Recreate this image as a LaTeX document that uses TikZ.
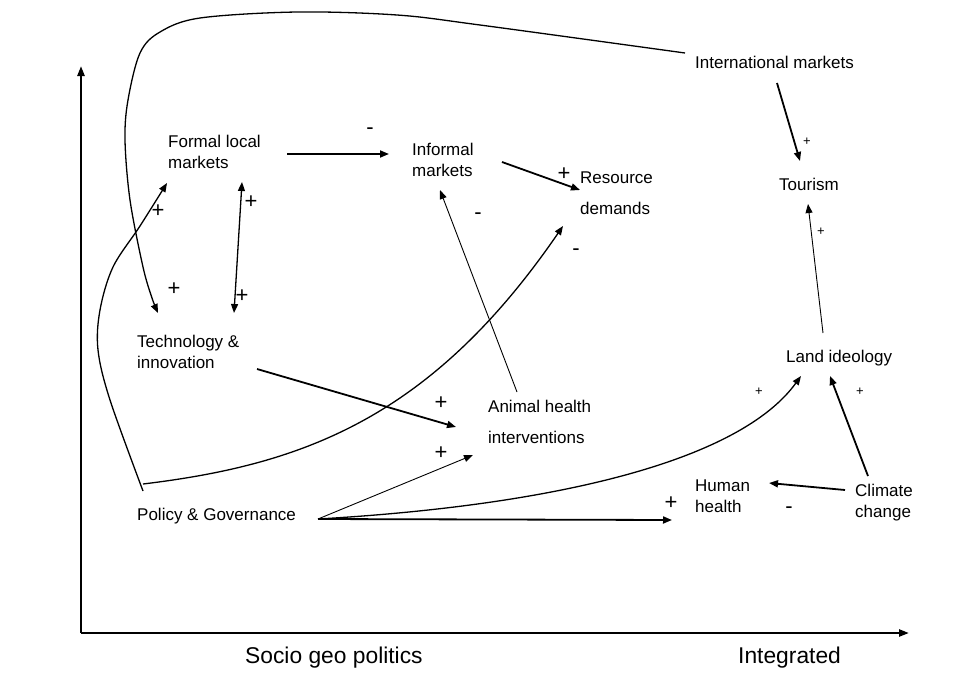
\documentclass[tikz,border=0pt]{standalone}
\usepackage{fontspec}
\setmainfont{Liberation Sans}
\usetikzlibrary{arrows.meta}
\begin{document}
\begin{tikzpicture}[x=1pt,y=-1pt,
  % multi-line labels are placed by the baseline of their last line
  lbl/.style={font=\fontsize{17}{21}\selectfont, inner sep=0pt, anchor=base west, align=left},
  axlbl/.style={font=\fontsize{22.8}{24}\selectfont, inner sep=0pt, anchor=base west},
  bigsign/.style={font=\fontsize{22}{22}\selectfont, inner sep=0pt},
  smallsign/.style={font=\fontsize{13}{13}\selectfont, inner sep=0pt},
  tip/.style={-{Triangle[length=9pt,width=7pt]}},
  twotips/.style={{Triangle[length=9pt,width=7pt]}-{Triangle[length=9pt,width=7pt]}},
  heavy/.style={line width=1.8pt},
  medium/.style={line width=1.3pt},
  light/.style={line width=0.9pt},
  axis/.style={line width=2.3pt, -{Triangle[length=10pt,width=7pt]}}
]
\useasboundingbox (0,0) rectangle (967,678);

% axes
\coordinate (origin) at (81,633);
\coordinate (ytop) at (81,66);
\coordinate (xend) at (909,633);
\draw[axis] (origin) -- (ytop);
\draw[axis] (origin) -- (xend);
\node[axlbl] (socio) at (245,663) {Socio geo politics};
\node[axlbl] (integ) at (738,663) {Integrated};

% factors
\node[lbl] (formal)   at (168,168) {Formal local\\markets};
\node[lbl] (informal) at (412,176) {Informal\\markets};
\node[lbl] (resource) at (580,214) {Resource\\[10pt]demands};
\node[lbl] (intl)     at (695,68)  {International markets};
\node[lbl] (tourism)  at (779,190) {Tourism};
\node[lbl] (tech)     at (137,368) {Technology \&\\innovation};
\node[lbl] (land)     at (786,362) {Land ideology};
\node[lbl] (animal)   at (488,443) {Animal health\\[10pt]interventions};
\node[lbl] (policy)   at (137,520) {Policy \& Governance};
\node[lbl] (human)    at (695,512) {Human\\health};
\node[lbl] (climate)  at (855,517) {Climate\\change};

% connector end points
\coordinate (formal-e)   at (287,154);
\coordinate (informal-w) at (389,154);
\coordinate (informal-e) at (502,162);
\coordinate (resource-w) at (580,190);
\coordinate (intl-s)     at (777,83);
\coordinate (tourism-n)  at (800,161);
\coordinate (tourism-s)  at (808,204);
\coordinate (land-n)     at (823,333);
\coordinate (animal-n)   at (517,392);
\coordinate (informal-s) at (440,190);
\coordinate (tech-e)     at (257,369);
\coordinate (animal-w)   at (456,427);
\coordinate (policy-e)   at (318,519);
\coordinate (animal-sw)  at (473,455);
\coordinate (human-w)    at (672,520);
\coordinate (land-sw)    at (801,376);
\coordinate (climate-w)  at (845,490);
\coordinate (human-e)    at (769,483);
\coordinate (climate-n)  at (868,476);
\coordinate (land-s)     at (830,376);
\coordinate (formal-s)   at (242,182);
\coordinate (tech-n)     at (234,313);
\coordinate (policy-nw)  at (143,491);
\coordinate (policy-n)   at (143,484);
\coordinate (formal-sw)  at (167,183);
\coordinate (resource-sw) at (563,226);
\coordinate (intl-w)     at (685,53);
\coordinate (tech-nw)    at (158,313);

% straight links
\draw[heavy,tip] (formal-e) -- (informal-w);
\draw[heavy,tip] (informal-e) -- (resource-w);
\draw[heavy,tip] (intl-s) -- (tourism-n);
\draw[light,tip] (land-n) -- (tourism-s);
\draw[light,tip] (animal-n) -- (informal-s);
\draw[heavy,tip] (tech-e) -- (animal-w);
\draw[light,tip] (policy-e) -- (animal-sw);
\draw[heavy,tip] (policy-e) -- (human-w);
\draw[heavy,tip] (climate-w) -- (human-e);
\draw[heavy,tip] (climate-n) -- (land-s);
\draw[medium,twotips] (formal-s) -- (tech-n);

% curved links
\draw[medium,tip] (policy-e) .. controls (560,505) and (740,460) .. (land-sw);
\draw[medium,tip] plot[smooth,tension=0.55] coordinates {(policy-nw) (110,400) (98,350) (100,310) (113,267) (140,226) (formal-sw)};
\draw[medium,tip] (policy-n) .. controls (300,465) and (430,420) .. (resource-sw);
\draw[medium,tip] plot[smooth,tension=0.55] coordinates {(intl-w) (480,25) (397,15) (297,12) (200,18) (160,32) (140,53) (128,100) (125,140) (130,200) (143,267) (152,298) (tech-nw)};

% polarity signs
\node[bigsign] (p1)  at (370,131) {-};
\node[bigsign] (p2)  at (564,174) {+};
\node[bigsign] (p3)  at (478,216) {-};
\node[bigsign] (p4)  at (576,252) {-};
\node[smallsign] (p5) at (807,142) {+};
\node[smallsign] (p6) at (821,232) {+};
\node[bigsign] (p7)  at (158,211) {+};
\node[bigsign] (p8)  at (251,202) {+};
\node[bigsign] (p9)  at (174,289) {+};
\node[bigsign] (p10) at (242,296) {+};
\node[bigsign] (p11) at (441,403) {+};
\node[bigsign] (p12) at (441,453) {+};
\node[bigsign] (p13) at (671,503) {+};
\node[bigsign] (p14) at (789,510) {-};
\node[smallsign] (p15) at (759,392) {+};
\node[smallsign] (p16) at (860,392) {+};
\end{tikzpicture}
\end{document}
